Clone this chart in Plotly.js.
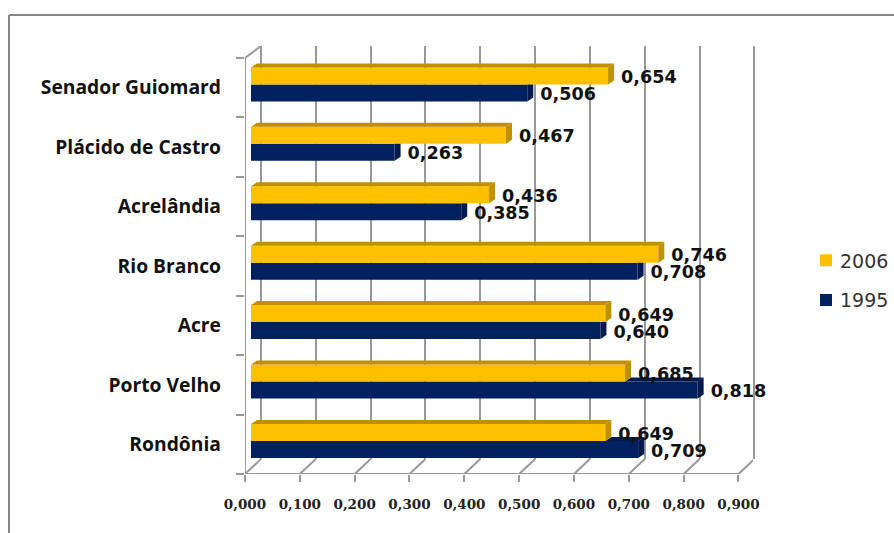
<!DOCTYPE html>
<html><head><meta charset="utf-8">
<script src="https://cdn.plot.ly/plotly-3.0.1.min.js"></script>
<style>html,body{margin:0;padding:0;background:#fff}</style></head>
<body><div id="chart" style="width:894px;height:533px"></div>
<script>
const categories = ["Rondônia","Porto Velho","Acre","Rio Branco","Acrelândia","Plácido de Castro","Senador Guiomard"];
const values2006 = [0.649,0.685,0.649,0.746,0.436,0.467,0.654];
const values1995 = [0.709,0.818,0.640,0.708,0.385,0.263,0.506];
const gridTicks = [0,0.1,0.2,0.3,0.4,0.5,0.6,0.7,0.8,0.9];
const tickLabels = ["0,000","0,100","0,200","0,300","0,400","0,500","0,600","0,700","0,800","0,900"];

const W=894,H=533;
const fx=p=>p/W, fy=p=>1-p/H;
const GREY='#989898', GOLD='#FFC000', GOLDSIDE='#BF9000', BLUE='#002060', BLUESIDE='#001a4d';
const xU=548.3, barU=546, yU=59.43, barH=0.286;
const dx=6/barU, dy=4/yU, lblDx=13/barU;
const idx=categories.map((_,i)=>i);

function faces(){
  const g={x:[],y:[]}, gt={x:[],y:[]}, b={x:[],y:[]}, bt={x:[],y:[]};
  const poly=(o,pts)=>{pts.forEach(p=>{o.x.push(p[0]);o.y.push(p[1]);});o.x.push(null);o.y.push(null);};
  idx.forEach(i=>{
    const a=values2006[i], c=values1995[i], t=i+barH, m=i, l=i-barH;
    poly(gt,[[0,t],[dx,t+dy],[a+dx,t+dy],[a,t]]);
    poly(g,[[a,m],[a+dx,m+dy],[a+dx,t+dy],[a,t]]);
    if(c>a){
      poly(bt,[[a,m],[a+dx,m+dy],[c+dx,m+dy],[c,m]]);
      poly(b,[[c,l],[c+dx,l+dy],[c+dx,m+dy],[c,m]]);
    } else {
      poly(b,[[c,l],[c+dx,l+dy],[c+dx,m],[c,m]]);
    }
  });
  return {g,gt,b,bt};
}
const F=faces();
const face=(o,col)=>({type:'scatter',mode:'lines',x:o.x,y:o.y,xaxis:'x3',yaxis:'y3',fill:'toself',fillcolor:col,
  line:{width:0,color:col},hoverinfo:'skip',showlegend:false});
const fmt=v=>v.toFixed(3).replace('.',',');
const lblFont={family:'DejaVu Sans',size:17.6,color:'#111',weight:'bold'};

const traces=[
 {type:'scatter',mode:'none',x:gridTicks,y:gridTicks.map(()=>0.5),xaxis:'x',yaxis:'y',hoverinfo:'skip',showlegend:false},
 {type:'scatter',mode:'none',x:gridTicks.slice(0,7),y:categories,xaxis:'x2',yaxis:'y2',hoverinfo:'skip',showlegend:false},
 {type:'bar',orientation:'h',name:'1995',legendgroup:'a',legendrank:2,x:values1995,y:idx,offset:-barH,width:barH,marker:{color:BLUE},xaxis:'x3',yaxis:'y3'},
 {type:'bar',orientation:'h',name:'2006',legendgroup:'b',legendrank:1,x:values2006,y:idx,offset:0,width:barH,marker:{color:GOLD},xaxis:'x3',yaxis:'y3'},
 face(F.bt,BLUESIDE),face(F.b,BLUESIDE),face(F.gt,GOLDSIDE),face(F.g,GOLDSIDE),
 {type:'scatter',mode:'text',x:values2006.map(v=>v+lblDx),y:idx.map(i=>i+barH/2-0.045),text:values2006.map(fmt),textposition:'middle right',
  textfont:lblFont,xaxis:'x3',yaxis:'y3',showlegend:false,hoverinfo:'skip',cliponaxis:false},
 {type:'scatter',mode:'text',x:values1995.map(v=>v+lblDx),y:idx.map(i=>i-barH/2-0.045),text:values1995.map(fmt),textposition:'middle right',
  textfont:lblFont,xaxis:'x3',yaxis:'y3',showlegend:false,hoverinfo:'skip',cliponaxis:false}
];

const lineShape=(x0,y0,x1,y1)=>({type:'line',xref:'x2',yref:'y2',x0,y0,x1,y1,layer:'below',line:{color:GREY,width:2}});
const shapes=[
 {type:'line',xref:'paper',yref:'paper',x0:fx(9),x1:fx(894),y0:fy(15),y1:fy(15),line:{color:'#868686',width:2}},
 {type:'line',xref:'paper',yref:'paper',x0:fx(9),x1:fx(9),y0:fy(15),y1:0,line:{color:'#868686',width:2}},
 lineShape(0,-0.5,0,6.5),
 lineShape(0,-0.5,0.9,-0.5),
 lineShape(0,6.5,16/xU,6.5+12/yU)
].concat(gridTicks.map(t=>lineShape(t,-0.5,t+16/xU,-0.5+15/yU)));

const layout={
 width:W,height:H,margin:{l:0,r:0,t:0,b:0},paper_bgcolor:'#fff',plot_bgcolor:'rgba(0,0,0,0)',
 barmode:'overlay',shapes,hovermode:false,
 xaxis:{domain:[fx(259),fx(760)],range:[-2/xU,499/xU],tickvals:gridTicks,showgrid:true,gridcolor:GREY,gridwidth:2,
   showticklabels:false,ticks:'',zeroline:false,anchor:'y',showline:false},
 yaxis:{domain:[fy(459),fy(46)],range:[0,1],visible:false,anchor:'x'},
 xaxis2:{domain:[fx(245),fx(753)],range:[0,508/xU],tickmode:'array',tickvals:gridTicks,ticktext:tickLabels,showgrid:false,zeroline:false,
   ticks:'outside',ticklen:7,tickwidth:2,tickcolor:GREY,anchor:'y2',ticklabelstandoff:11,
   tickfont:{family:'DejaVu Serif',size:13.5,color:'#222',weight:'bold'}},
 yaxis2:{domain:[fy(474),fy(46)],range:[-0.5,6.702],type:'category',categoryorder:'array',categoryarray:categories,
   tickson:'boundaries',ticks:'outside',ticklen:8,tickwidth:2,tickcolor:GREY,showgrid:false,zeroline:false,anchor:'x2',ticklabelstandoff:23,
   tickfont:{family:'Open Sans',size:19.3,color:'#111',weight:'bold'}},
 xaxis3:{domain:[fx(245),fx(753)],range:[-6/barU,502/barU],visible:false,anchor:'y3'},
 yaxis3:{domain:[fy(474),fy(46)],range:[-0.556,6.646],visible:false,anchor:'x3'},
 legend:{x:fx(800),y:fy(241.5),xanchor:'left',yanchor:'top',traceorder:'grouped',tracegroupgap:12,
   font:{family:'DejaVu Sans',size:19,color:'#333'},bgcolor:'rgba(0,0,0,0)'}
};
Plotly.newPlot('chart',traces,layout,{displayModeBar:false,staticPlot:true}).then(gd=>{
  gd.querySelectorAll('.legend .legendpoints').forEach(n=>{
    n.setAttribute('transform','translate(6,0) '+(n.getAttribute('transform')||''));
  });
});
</script></body></html>
